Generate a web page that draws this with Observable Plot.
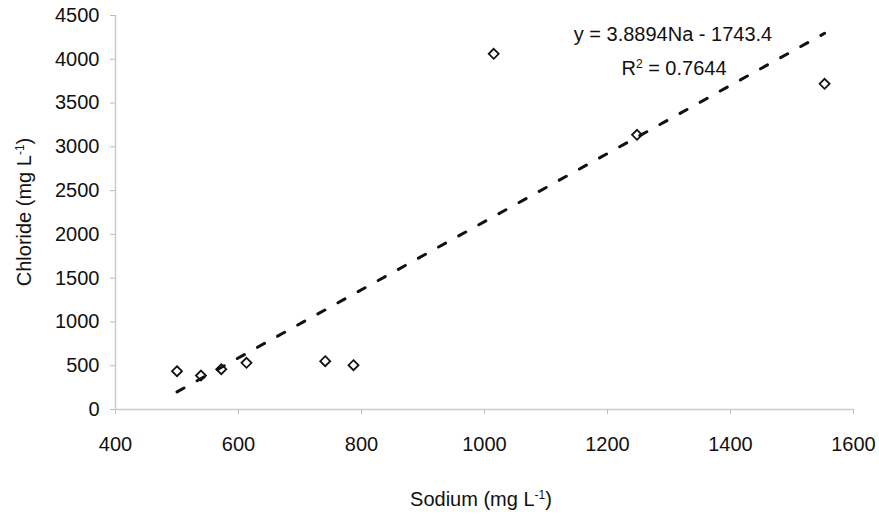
<!DOCTYPE html>
<html>
<head>
<meta charset="utf-8">
<script src="https://cdn.jsdelivr.net/npm/d3@7"></script>
<script src="https://cdn.jsdelivr.net/npm/@observablehq/plot@0.6"></script>
<style>
  html, body { margin: 0; padding: 0; background: #fff; }
  #chart svg { display: block; }
</style>
</head>
<body>
<div id="chart"></div>
<script>
// Data
const sodium   = [500, 539, 572, 613, 741, 787, 1015, 1248, 1553];
const chloride = [437, 388, 460, 533, 552, 506, 4062, 3137, 3720];
const xTicks = [400, 600, 800, 1000, 1200, 1400, 1600];
const yTicks = [0, 500, 1000, 1500, 2000, 2500, 3000, 3500, 4000, 4500];
// Trendline given in the chart
const slope = 3.8894;
const intercept = -1743.4;
const r2 = 0.7644;

const points = sodium.map((x, i) => ({x, y: chloride[i]}));
const xMin = d3.min(sodium), xMax = d3.max(sodium);
const trend = [xMin, xMax].map(x => ({x, y: slope * x + intercept}));

const font = "'Liberation Sans', Arial, sans-serif";
const fmt = d3.format("d");

const chart = Plot.plot({
  width: 879,
  height: 515,
  marginLeft: 115,
  marginRight: 26,
  marginTop: 15,
  marginBottom: 106,
  style: {fontFamily: font, fontSize: "20px", color: "#111", background: "#fff"},
  x: {domain: [400, 1600]},
  y: {domain: [0, 4500]},
  marks: [
    Plot.axisX({ticks: xTicks, tickFormat: fmt, tickSize: 5, tickPadding: 22, label: null, stroke: "#bbb", fill: "#111", fontSize: 20}),
    Plot.axisY({ticks: yTicks, tickFormat: fmt, tickSize: 5, tickPadding: 11, label: null, stroke: "#bbb", fill: "#111", fontSize: 20}),
    Plot.ruleX([400], {stroke: "#ccc", strokeWidth: 1.5}),
    Plot.ruleY([0], {stroke: "#ccc", strokeWidth: 1.5}),
    Plot.line(trend, {x: "x", y: "y", stroke: "#111", strokeWidth: 3, strokeDasharray: "8,15"}),
    Plot.dot(points, {x: "x", y: "y", symbol: "diamond2", r: 4.5, stroke: "#111", strokeWidth: 1.8, fill: "none"})
  ]
});

document.getElementById("chart").appendChild(chart);

// Axis titles and trendline annotation (with superscripts)
const svg = d3.select(chart);
const sx = chart.scale("x"), sy = chart.scale("y");
const x0 = sx.apply(400), x1 = sx.apply(1600);
const y0 = sy.apply(0), y1 = sy.apply(4500);

function supText(g, parts) {
  parts.forEach(([t, sup]) => {
    const ts = g.append("tspan").text(t);
    if (sup) ts.attr("font-size", "12px").attr("baseline-shift", "super");
  });
}

const xt = svg.append("text")
  .attr("x", (x0 + x1) / 2 - 3).attr("y", 506)
  .attr("text-anchor", "middle").attr("font-family", font).attr("font-size", 20).attr("fill", "#111");
supText(xt, [["Sodium (mg L"], ["-1", true], [")"]]);

const yt = svg.append("text")
  .attr("transform", `translate(31,${(y0 + y1) / 2}) rotate(-90)`)
  .attr("text-anchor", "middle").attr("font-family", font).attr("font-size", 20).attr("fill", "#111");
supText(yt, [["Chloride (mg L"], ["-1", true], [")"]]);

const a1 = svg.append("text")
  .attr("x", 673).attr("y", 41)
  .attr("text-anchor", "middle").attr("font-family", font).attr("font-size", 20).attr("fill", "#111");
supText(a1, [[`y = ${slope}Na - ${Math.abs(intercept)}`]]);

const a2 = svg.append("text")
  .attr("x", 674).attr("y", 75)
  .attr("text-anchor", "middle").attr("font-family", font).attr("font-size", 20).attr("fill", "#111");
supText(a2, [["R"], ["2", true], [` = ${r2}`]]);
</script>
</body>
</html>
